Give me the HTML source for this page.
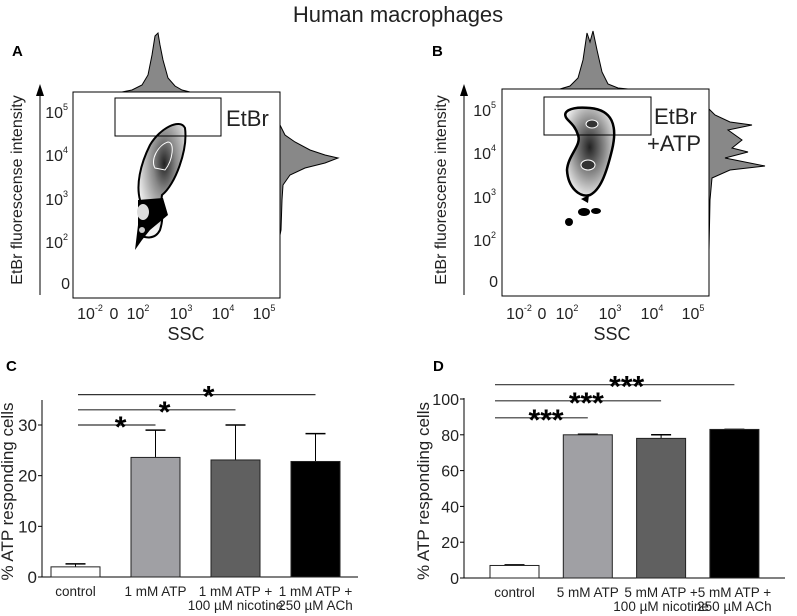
<!DOCTYPE html>
<html><head><meta charset="utf-8"><style>
body{margin:0;background:#fff}
svg{display:block;font-family:"Liberation Sans",sans-serif}
</style></head><body>
<svg id="fig" width="797" height="616" viewBox="0 0 797 616">
<defs>
<radialGradient id="gA" cx="0.55" cy="0.35" r="0.6"><stop offset="0" stop-color="#222"/><stop offset="0.4" stop-color="#888"/><stop offset="1" stop-color="#f4f4f4"/></radialGradient>
<radialGradient id="gB" cx="0.5" cy="0.45" r="0.6"><stop offset="0" stop-color="#222"/><stop offset="0.5" stop-color="#888"/><stop offset="1" stop-color="#f4f4f4"/></radialGradient>
</defs>
<text x="398" y="22" font-size="22" text-anchor="middle" fill="#222">Human macrophages</text>

<!-- Panel A -->
<g>
<text x="12" y="56" font-size="15" font-weight="bold">A</text>
<path d="M122,92 L132,90 L142,85 L148,75 L152,55 L155,36 L158,33 L160,45 L163,60 L168,78 L175,86 L182,90 L190,92 Z" fill="#888" stroke="#000" stroke-width="1"/>
<path d="M280,125 L285,135 L295,142 L310,150 L325,155 L338,158 L325,163 L305,168 L290,175 L283,185 L282,200 L281,230 L280,235 Z" fill="#888" stroke="#000" stroke-width="1"/>
<rect x="73" y="92" width="207" height="206" fill="#fff" stroke="#000"/>
<path d="M140,200 C136,185 140,165 150,145 C160,128 180,118 185,128 C188,150 175,185 162,195 C160,205 165,215 160,230 C155,240 145,238 140,235 Z" fill="url(#gA)" stroke="#000" stroke-width="2"/>
<path d="M155,168 C150,160 158,145 168,142 C175,142 173,160 165,170 Z" fill="none" stroke="#fff" stroke-width="1"/>
<path d="M138,200 L163,198 L168,215 L150,230 L142,240 L135,250 L138,225 Z" fill="#000"/>
<ellipse cx="143" cy="212" rx="6" ry="8" fill="#ddd"/>
<ellipse cx="144" cy="227" rx="5" ry="5" fill="#000"/>
<ellipse cx="142" cy="230" rx="3" ry="3" fill="#ccc"/>
<rect x="115" y="98" width="106" height="38" fill="none" stroke="#000"/>
<text x="226" y="126" font-size="22" fill="#222">EtBr</text>
<line x1="40" y1="295" x2="40" y2="92" stroke="#000"/>
<path d="M36,96 L40,84 L44,96 Z" fill="#000"/>
<text transform="translate(22,190) rotate(-90)" font-size="16" text-anchor="middle" fill="#222">EtBr fluorescense intensity</text>
<g font-size="16" fill="#222" text-anchor="end">
<text x="68" y="118">10<tspan font-size="9" dy="-8">5</tspan></text>
<text x="68" y="161">10<tspan font-size="9" dy="-8">4</tspan></text>
<text x="68" y="205">10<tspan font-size="9" dy="-8">3</tspan></text>
<text x="68" y="248">10<tspan font-size="9" dy="-8">2</tspan></text>
<text x="70" y="289">0</text></g>
<g font-size="16" fill="#222" text-anchor="middle">
<text x="90" y="319">10<tspan font-size="9" dy="-8">-2</tspan></text>
<text x="114" y="319">0</text>
<text x="138" y="319">10<tspan font-size="9" dy="-8">2</tspan></text>
<text x="181" y="319">10<tspan font-size="9" dy="-8">3</tspan></text>
<text x="223" y="319">10<tspan font-size="9" dy="-8">4</tspan></text>
<text x="264" y="319">10<tspan font-size="9" dy="-8">5</tspan></text></g>
<text x="186" y="340" font-size="18" text-anchor="middle" fill="#222">SSC</text>
</g>

<!-- Panel B -->
<g>
<text x="432" y="56" font-size="15" font-weight="bold">B</text>
<path d="M560,89 L570,86 L578,78 L583,60 L587,33 L590,42 L593,31 L597,50 L602,72 L608,84 L618,88 L628,89 Z" fill="#888" stroke="#000" stroke-width="1"/>
<path d="M708,108 L715,115 L730,122 L752,125 L728,130 L742,140 L732,148 L748,152 L725,158 L765,166 L730,170 L712,178 L710,200 L709,250 Z" fill="#888" stroke="#000" stroke-width="1"/>
<rect x="502" y="89" width="207" height="207" fill="#fff" stroke="#000"/>
<path d="M568,120 C560,112 570,106 590,108 C612,110 618,125 612,150 C606,175 600,190 590,195 C580,198 568,188 567,170 C568,155 582,145 578,135 C576,128 572,124 568,120 Z" fill="url(#gB)" stroke="#000" stroke-width="2.5"/>
<ellipse cx="592" cy="124" rx="6" ry="4" fill="#333" stroke="#fff"/>
<ellipse cx="588" cy="165" rx="7" ry="5" fill="#333" stroke="#fff"/>
<path d="M581,199 L589,195 L588,203 Z" fill="#000"/>
<ellipse cx="584" cy="212" rx="6" ry="4" fill="#000"/>
<ellipse cx="596" cy="211" rx="5" ry="3" fill="#000"/>
<ellipse cx="569" cy="222" rx="4" ry="4" fill="#000"/>
<rect x="544" y="97" width="107" height="38" fill="none" stroke="#000"/>
<text x="654" y="124" font-size="22" fill="#222">EtBr</text>
<text x="647" y="151" font-size="22" fill="#222">+ATP</text>
<line x1="464" y1="295" x2="464" y2="92" stroke="#000"/>
<path d="M460,96 L464,84 L468,96 Z" fill="#000"/>
<text transform="translate(446,190) rotate(-90)" font-size="16" text-anchor="middle" fill="#222">EtBr fluorescense intensity</text>
<g font-size="16" fill="#222" text-anchor="end">
<text x="496" y="116">10<tspan font-size="9" dy="-8">5</tspan></text>
<text x="496" y="159">10<tspan font-size="9" dy="-8">4</tspan></text>
<text x="496" y="203">10<tspan font-size="9" dy="-8">3</tspan></text>
<text x="496" y="246">10<tspan font-size="9" dy="-8">2</tspan></text>
<text x="498" y="287">0</text></g>
<g font-size="16" fill="#222" text-anchor="middle">
<text x="519" y="319">10<tspan font-size="9" dy="-8">-2</tspan></text>
<text x="542" y="319">0</text>
<text x="567" y="319">10<tspan font-size="9" dy="-8">2</tspan></text>
<text x="610" y="319">10<tspan font-size="9" dy="-8">3</tspan></text>
<text x="652" y="319">10<tspan font-size="9" dy="-8">4</tspan></text>
<text x="693" y="319">10<tspan font-size="9" dy="-8">5</tspan></text></g>
<text x="612" y="340" font-size="18" text-anchor="middle" fill="#222">SSC</text>
</g>

<text x="6" y="371" font-size="15" font-weight="bold">C</text>
<text x="433" y="371" font-size="15" font-weight="bold">D</text>
<g id="chartC"></g>
<g id="chartD"></g>
</svg>
<script>
const catsC = [["control"],["1 mM ATP"],["1 mM ATP +","100 µM nicotine"],["1 mM ATP +","250 µM ACh"]];
const valsC = [2.0, 23.6, 23.1, 22.8];
const errC = [2.6, 29.0, 30.0, 28.3];
const ticksC = [0, 10, 20, 30];
const sigC = [[1, 30, "*"], [2, 33, "*"], [3, 36, "*"]];
const catsD = [["control"],["5 mM ATP"],["5 mM ATP +","100 µM nicotine"],["5 mM ATP +","250 µM ACh"]];
const valsD = [7, 80, 78, 83];
const errD = [7.3, 80.3, 80, 83];
const ticksD = [0, 20, 40, 60, 80, 100];
const sigD = [[1, 89.5, "***"], [2, 99, "***"], [3, 108, "***"]];
const fills = ["#fff", "#a0a0a4", "#606060", "#000"];
const NS = "http://www.w3.org/2000/svg";
function mk(parent, tag, attrs) {
  const e = document.createElementNS(NS, tag);
  for (const k in attrs) e.setAttribute(k, attrs[k]);
  parent.appendChild(e); return e;
}
function draw(g, cfg, cats, vals, errs, ticks, sig, letter) {
  const y = v => cfg.y0 - v * (cfg.y0 - cfg.y1) / cfg.vmax;
  const x = i => cfg.xs + i * cfg.step;
  const ax = mk(g, "path", {d: `M${cfg.ax},${cfg.top} L${cfg.ax},${cfg.y0} L${cfg.xe},${cfg.y0}`, fill: "none", stroke: "#000"});
  
  
  ticks.forEach(t => {
    mk(g, "line", {x1: cfg.ax - 4, x2: cfg.ax, y1: y(t), y2: y(t), stroke: "#000"});
    const tx = mk(g, "text", {x: cfg.ax - 5, y: y(t) + 6, "font-size": cfg.tf, "text-anchor": "end", fill: "#222"});
    tx.textContent = t;
    
    
  });
  vals.forEach((v, i) => {
    const cx = x(i) + cfg.bw / 2;
    const el = mk(g, "line", {x1: cx, x2: cx, y1: y(v), y2: y(errs[i]), stroke: "#000"});
    
    
    mk(g, "line", {x1: cx - 10, x2: cx + 10, y1: y(errs[i]), y2: y(errs[i]), stroke: "#000", "stroke-width": 1.5});
    const b = mk(g, "rect", {x: x(i), y: y(v), width: cfg.bw, height: cfg.y0 - y(v), fill: fills[i], stroke: "#222"});
    
    
    cats[i].forEach((s, k) => {
      const t = mk(g, "text", {x: cx, y: cfg.y0 + 19 + k * 14, "font-size": 13.5, "text-anchor": "middle", fill: "#222"});
      t.textContent = s;
      
      
    });
  });
  sig.forEach(s => {
    const x2 = x(s[0]) + cfg.bw / 2;
    const l = mk(g, "line", {x1: cfg.sx, x2: x2, y1: y(s[1]), y2: y(s[1]), stroke: "#333", "stroke-width": 1.2});
    
    
    const t = mk(g, "text", {x: cfg.sx + (x2 - cfg.sx) * 0.55, y: y(s[1]) + 12, "font-size": 30, "font-weight": "bold", "text-anchor": "middle", fill: "#000"});
    t.textContent = s[2];
    
    
  });
  const yt = mk(g, "text", {transform: `translate(${cfg.tx},${(cfg.top + cfg.y0) / 2 + 3}) rotate(-90)`, "font-size": 17, "text-anchor": "middle", fill: "#222"});
  yt.textContent = "% ATP responding cells";
  
  
}
draw(document.getElementById("chartC"), {ax: 42, xe: 358, top: 400, y0: 577, y1: 425, vmax: 30, xs: 51, step: 80, bw: 49, sx: 78, tf: 17, tx: 13}, catsC, valsC, errC, ticksC, sigC, "c");
draw(document.getElementById("chartD"), {ax: 464, xe: 785, top: 398, y0: 578, y1: 399, vmax: 100, xs: 490, step: 73.3, bw: 49, sx: 495, tf: 16, tx: 429}, catsD, valsD, errD, ticksD, sigD, "d");
</script>
</body></html>
